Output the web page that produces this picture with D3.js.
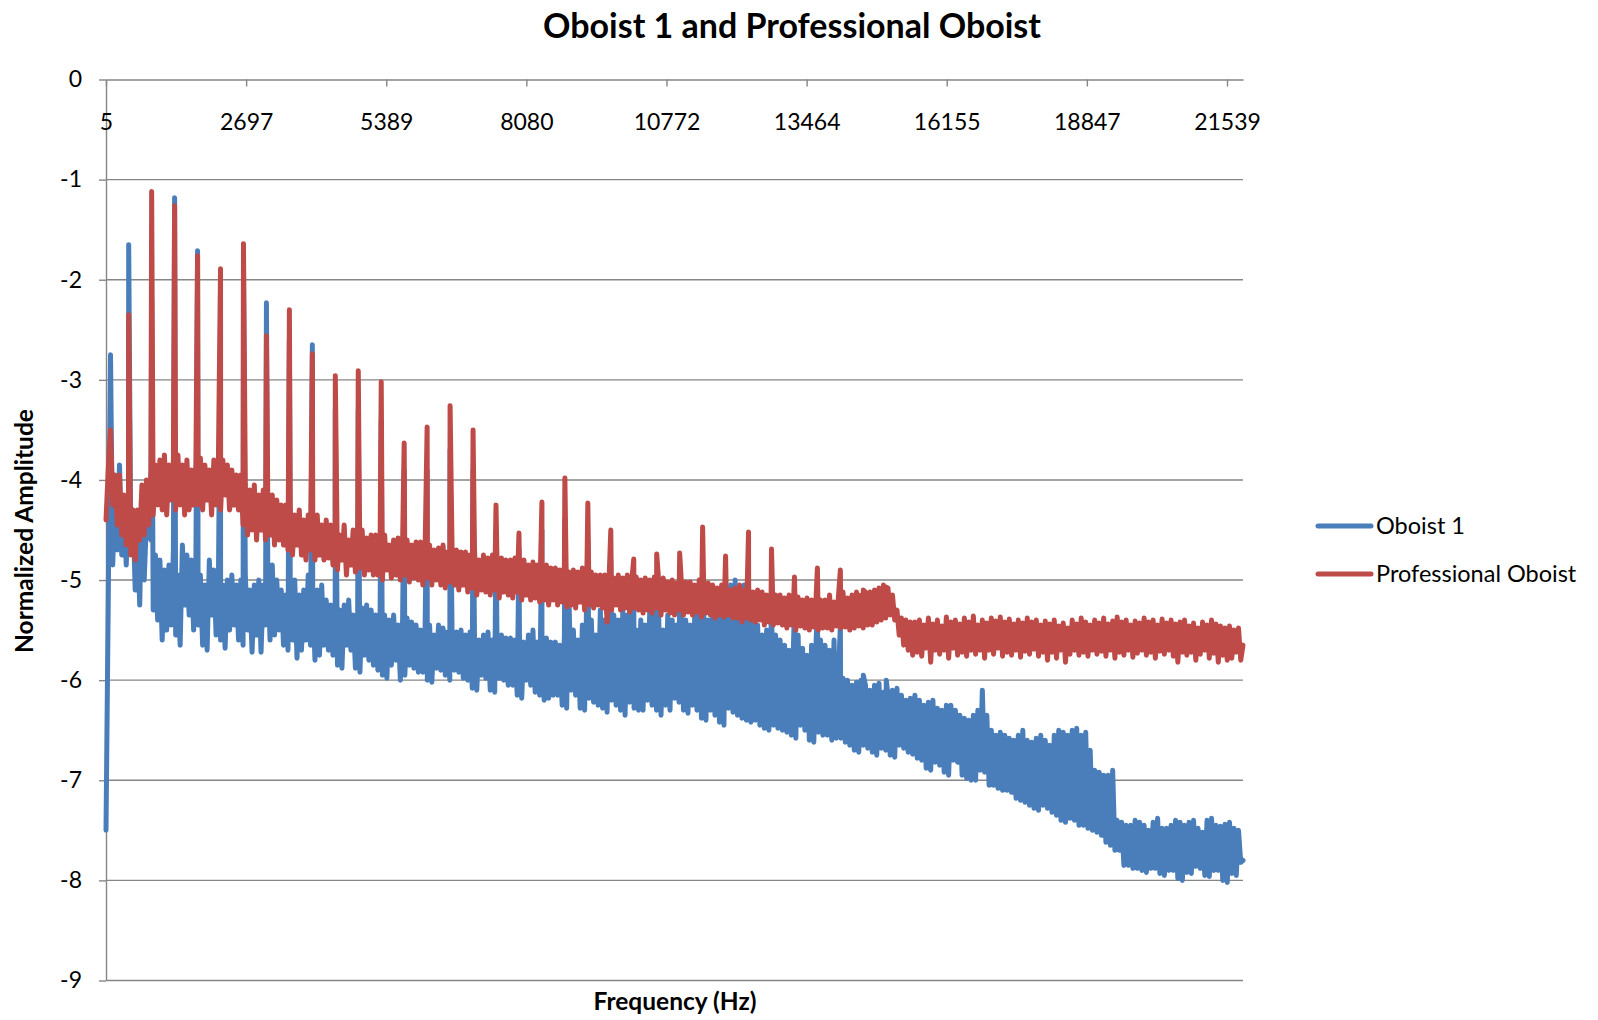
<!DOCTYPE html>
<html>
<head>
<meta charset="utf-8">
<script src="https://cdn.jsdelivr.net/npm/d3@7"></script>
<style>
  html, body { margin: 0; padding: 0; background: #ffffff; }
  svg { display: block; }
  text { font-family: Lato, "Open Sans", sans-serif; fill: #000; }
</style>
</head>
<body>
<svg id="chart" width="1598" height="1020"></svg>
<script>
// ---- Data -------------------------------------------------------------
// Category (frequency) labels shown along the top axis
const freqTickLabels = [5, 2697, 5389, 8080, 10772, 13464, 16155, 18847, 21539];
// Amplitude ticks (log10 of normalized amplitude)
const ampTicks = [0, -1, -2, -3, -4, -5, -6, -7, -8, -9];

// Spectrum sampled every 8 FFT bins, from 5 Hz up to the last bin
const firstHz = 5;
const binHz = 43.165;
const lastHz = 21846.5;

// Harmonic partials of the played note (Hz)
const harmonicHz = [441, 882, 1323, 1764, 2205, 2646, 3087, 3528, 3969, 4410,
  4851, 5292, 5733, 6174, 6615, 7056, 7497, 7938, 8379, 8820,
  9261, 9702, 10143, 10584, 11025, 11466, 11907, 12348, 12789, 13230,
  13671, 14112, 14553, 14994];

// Peak amplitude at each harmonic
const oboist1Harmonics = [-1.65, -2.20, -1.18, -1.71, -2.40, -2.00, -2.23, -2.60, -2.65, -3.30,
  -3.30, -3.40, -3.90, -3.90, -3.70, -3.90, -4.50, -4.70, -4.50, -4.40,
  -4.60, -4.80, -5.00, -5.00, -5.00, -4.90, -5.10, -5.00, -5.20, -5.30,
  -5.30, -5.45, -5.95, -6.00];
const proHarmonics = [-2.35, -1.12, -1.26, -1.76, -1.89, -1.64, -2.56, -2.30, -2.74, -2.96,
  -2.91, -3.02, -3.63, -3.47, -3.26, -3.50, -4.25, -4.53, -4.22, -3.98,
  -4.23, -4.50, -4.79, -4.74, -4.73, -4.47, -4.76, -4.52, -4.69, -4.97,
  -4.88, -4.90, -5.10, -5.07];

// Noise floor between the partials (one row = 20 samples, about 863 Hz)
const oboist1Floor = [
  -7.50, -5.20, -2.75, -4.85, -4.10, -4.70, -3.85, -4.75, -4.20, -4.85, -4.30, -4.60, -4.30, -5.10, -4.45, -5.25, -4.15, -5.00, -4.40, -4.55,
  -4.60, -5.30, -4.75, -5.40, -4.80, -5.60, -4.90, -5.50, -4.85, -5.45, -4.70, -5.55, -4.95, -5.65, -4.65, -5.25, -4.75, -5.35, -4.80, -5.50,
  -4.85, -5.45, -4.95, -5.65, -5.05, -5.70, -4.80, -5.35, -4.90, -5.55, -5.10, -5.60, -5.05, -5.68, -5.00, -5.50, -4.95, -5.45, -5.05, -5.60,
  -5.00, -5.65, -4.95, -5.50, -5.10, -5.72, -5.05, -5.55, -5.00, -5.72, -5.05, -5.45, -4.90, -5.60, -4.85, -5.55, -5.00, -5.50, -5.10, -5.65,
  -5.15, -5.70, -5.05, -5.60, -5.00, -5.78, -5.15, -5.70, -5.10, -5.60, -4.95, -5.65, -5.15, -5.80, -5.10, -5.75, -5.05, -5.65, -5.20, -5.70,
  -5.25, -5.75, -5.30, -5.85, -5.30, -5.88, -5.25, -5.65, -5.20, -5.70, -5.35, -5.88, -5.40, -5.92, -5.28, -5.75, -5.25, -5.80, -5.30, -5.85,
  -5.35, -5.90, -5.30, -5.95, -5.35, -5.98, -5.40, -5.85, -5.35, -5.80, -5.45, -6.00, -5.40, -5.95, -5.38, -5.85, -5.42, -5.88, -5.45, -5.92,
  -5.50, -5.92, -5.48, -6.00, -5.45, -6.02, -5.55, -5.88, -5.45, -5.90, -5.48, -5.95, -5.52, -6.00, -5.50, -5.90, -5.52, -5.92, -5.50, -5.98,
  -5.55, -6.00, -5.52, -6.08, -5.58, -6.10, -5.60, -5.95, -5.55, -5.98, -5.52, -6.10, -5.60, -6.12, -5.58, -5.98, -5.55, -6.00, -5.58, -6.05,
  -5.58, -6.05, -5.60, -6.15, -5.55, -6.18, -5.62, -6.00, -5.55, -6.05, -5.50, -6.12, -5.62, -6.15, -5.60, -6.20, -5.58, -6.18, -5.62, -6.15,
  -5.62, -6.15, -5.65, -6.25, -5.55, -6.28, -5.15, -6.10, -5.50, -6.15, -5.60, -6.28, -5.45, -6.30, -5.10, -6.18, -5.40, -6.22, -5.55, -6.25,
  -5.30, -6.28, -5.40, -6.32, -5.05, -6.20, -5.35, -6.25, -5.40, -6.30, -5.30, -6.35, -5.35, -6.22, -5.45, -6.28, -5.50, -6.30, -5.40, -6.30,
  -5.45, -6.20, -5.30, -6.25, -5.05, -6.30, -5.40, -6.35, -5.50, -6.25, -5.35, -6.30, -5.40, -6.18, -5.45, -6.22, -5.35, -6.30, -5.40, -6.33,
  -5.45, -6.25, -5.35, -6.30, -5.20, -6.38, -5.30, -6.40, -5.40, -6.30, -5.25, -6.35, -5.30, -6.42, -5.20, -6.45, -5.10, -6.28, -5.05, -6.32,
  -5.00, -6.35, -5.10, -6.38, -5.05, -6.40, -5.25, -6.42, -5.35, -6.40, -5.45, -6.45, -5.55, -6.48, -5.50, -6.50, -5.45, -6.45, -5.55, -6.48,
  -5.60, -6.50, -5.65, -6.52, -5.70, -6.55, -5.60, -6.58, -5.55, -6.45, -5.68, -6.50, -5.75, -6.60, -5.65, -6.62, -5.62, -6.52, -5.60, -6.55,
  -5.65, -6.55, -5.70, -6.60, -5.60, -6.58, -5.95, -6.58, -5.98, -6.62, -6.00, -6.65, -6.05, -6.70, -6.02, -6.72, -6.00, -6.65, -6.05, -6.68,
  -6.10, -6.72, -6.05, -6.75, -6.03, -6.68, -6.12, -6.70, -6.15, -6.75, -6.10, -6.77, -6.08, -6.65, -6.15, -6.68, -6.20, -6.72, -6.18, -6.74,
  -6.15, -6.78, -6.20, -6.80, -6.25, -6.88, -6.22, -6.90, -6.20, -6.82, -6.28, -6.85, -6.30, -6.92, -6.25, -6.95, -6.25, -6.80, -6.30, -6.82,
  -6.35, -6.95, -6.38, -6.98, -6.40, -7.00, -6.35, -7.00, -6.30, -6.90, -6.10, -6.92, -6.35, -7.05, -6.50, -7.05, -6.55, -7.08, -6.52, -7.10,
  -6.55, -7.10, -6.58, -7.12, -6.60, -7.18, -6.55, -7.20, -6.50, -7.22, -6.60, -7.25, -6.62, -7.28, -6.58, -7.30, -6.55, -7.25, -6.60, -7.28,
  -6.65, -7.32, -6.55, -7.35, -6.50, -7.40, -6.52, -7.42, -6.55, -7.38, -6.50, -7.40, -6.48, -7.45, -6.55, -7.45, -6.52, -7.48, -6.70, -7.50,
  -6.90, -7.52, -6.92, -7.55, -6.95, -7.62, -6.95, -7.65, -6.90, -7.70, -7.40, -7.70, -7.42, -7.85, -7.45, -7.85, -7.45, -7.88, -7.40, -7.88,
  -7.42, -7.90, -7.45, -7.92, -7.50, -7.88, -7.42, -7.88, -7.38, -7.93, -7.48, -7.95, -7.48, -7.90, -7.45, -7.90, -7.40, -7.98, -7.42, -8.00,
  -7.45, -7.92, -7.42, -7.93, -7.40, -7.86, -7.48, -7.88, -7.52, -7.95, -7.40, -7.96, -7.38, -7.90, -7.45, -7.90, -7.46, -8.00, -7.44, -8.02,
  -7.42, -7.93, -7.48, -7.95, -7.50, -7.82, -7.80
];
const proFloor = [
  -4.40, -3.90, -3.50, -4.25, -3.95, -4.45, -3.95, -4.55, -4.15, -4.65, -4.20, -4.75, -4.30, -4.80, -4.30, -4.60, -4.05, -4.55, -4.00, -4.45,
  -3.90, -4.35, -3.85, -4.25, -3.80, -4.30, -3.75, -4.35, -3.85, -4.20, -3.80, -4.30, -3.75, -4.25, -3.85, -4.35, -3.80, -4.30, -3.90, -4.25,
  -3.85, -4.25, -3.78, -4.30, -3.85, -4.20, -3.90, -4.35, -3.80, -4.25, -3.85, -4.30, -3.80, -4.15, -3.85, -4.30, -3.90, -4.25, -3.95, -4.30,
  -3.95, -4.45, -4.05, -4.55, -4.10, -4.50, -4.05, -4.60, -4.15, -4.50, -4.10, -4.60, -4.20, -4.55, -4.15, -4.65, -4.20, -4.60, -4.25, -4.65,
  -4.25, -4.70, -4.30, -4.75, -4.35, -4.65, -4.30, -4.75, -4.40, -4.80, -4.35, -4.70, -4.40, -4.80, -4.35, -4.75, -4.45, -4.80, -4.40, -4.78,
  -4.45, -4.85, -4.50, -4.90, -4.55, -4.80, -4.45, -4.95, -4.60, -4.85, -4.50, -4.92, -4.55, -4.88, -4.50, -4.95, -4.58, -4.90, -4.55, -4.95,
  -4.55, -4.95, -4.60, -5.00, -4.55, -4.90, -4.65, -4.98, -4.60, -4.95, -4.58, -5.00, -4.62, -4.95, -4.60, -5.02, -4.65, -4.98, -4.62, -5.00,
  -4.62, -5.05, -4.70, -4.98, -4.65, -5.05, -4.70, -5.00, -4.68, -5.05, -4.65, -5.08, -4.72, -5.02, -4.68, -5.05, -4.70, -5.10, -4.72, -5.05,
  -4.72, -5.12, -4.75, -5.08, -4.70, -5.15, -4.80, -5.10, -4.75, -5.12, -4.78, -5.15, -4.75, -5.10, -4.80, -5.18, -4.78, -5.12, -4.80, -5.15,
  -4.80, -5.18, -4.78, -5.12, -4.85, -5.20, -4.80, -5.15, -4.85, -5.20, -4.82, -5.18, -4.85, -5.22, -4.88, -5.20, -4.85, -5.25, -4.88, -5.20,
  -4.88, -5.25, -4.90, -5.22, -4.85, -5.27, -4.92, -5.25, -4.90, -5.28, -4.92, -5.22, -4.88, -5.30, -4.95, -5.25, -4.92, -5.28, -4.95, -5.25,
  -4.95, -5.28, -4.95, -5.42, -4.92, -5.30, -4.98, -5.25, -4.95, -5.30, -4.98, -5.28, -4.95, -5.32, -5.00, -5.28, -4.97, -5.30, -5.00, -5.33,
  -4.98, -5.30, -5.00, -5.33, -4.97, -5.28, -5.02, -5.35, -4.98, -5.30, -5.02, -5.33, -5.00, -5.35, -5.03, -5.30, -5.00, -5.35, -5.02, -5.32,
  -5.02, -5.35, -5.05, -5.32, -5.00, -5.37, -5.08, -5.33, -5.03, -5.35, -5.05, -5.38, -5.08, -5.35, -5.05, -5.37, -5.08, -5.35, -5.10, -5.38,
  -5.08, -5.38, -5.05, -5.42, -5.10, -5.38, -5.07, -5.40, -5.12, -5.42, -5.10, -5.40, -5.12, -5.45, -5.15, -5.42, -5.12, -5.45, -5.15, -5.43,
  -5.15, -5.45, -5.18, -5.48, -5.15, -5.45, -5.20, -5.50, -5.17, -5.46, -5.20, -5.48, -5.18, -5.50, -5.20, -5.47, -5.18, -5.50, -5.20, -5.48,
  -5.20, -5.48, -5.15, -5.50, -5.22, -5.46, -5.15, -5.48, -5.12, -5.47, -5.18, -5.50, -5.15, -5.48, -5.12, -5.46, -5.15, -5.48, -5.12, -5.45,
  -5.12, -5.45, -5.10, -5.42, -5.08, -5.40, -5.05, -5.38, -5.08, -5.35, -5.15, -5.40, -5.30, -5.55, -5.38, -5.65, -5.40, -5.70, -5.42, -5.75,
  -5.42, -5.72, -5.40, -5.76, -5.45, -5.68, -5.38, -5.82, -5.44, -5.70, -5.40, -5.74, -5.46, -5.70, -5.37, -5.78, -5.42, -5.68, -5.40, -5.75,
  -5.44, -5.72, -5.38, -5.76, -5.42, -5.70, -5.36, -5.74, -5.45, -5.70, -5.40, -5.78, -5.43, -5.70, -5.38, -5.74, -5.41, -5.68, -5.37, -5.76,
  -5.42, -5.72, -5.39, -5.75, -5.44, -5.70, -5.40, -5.77, -5.43, -5.71, -5.38, -5.74, -5.42, -5.69, -5.40, -5.76, -5.45, -5.72, -5.41, -5.80,
  -5.44, -5.72, -5.40, -5.78, -5.46, -5.70, -5.43, -5.82, -5.48, -5.74, -5.40, -5.70, -5.44, -5.75, -5.38, -5.72, -5.42, -5.76, -5.45, -5.70,
  -5.40, -5.74, -5.43, -5.71, -5.38, -5.76, -5.44, -5.70, -5.41, -5.78, -5.37, -5.72, -5.42, -5.75, -5.40, -5.70, -5.45, -5.77, -5.41, -5.73,
  -5.43, -5.70, -5.38, -5.75, -5.42, -5.72, -5.40, -5.78, -5.45, -5.71, -5.39, -5.74, -5.43, -5.70, -5.40, -5.76, -5.44, -5.82, -5.42, -5.72,
  -5.40, -5.75, -5.46, -5.72, -5.43, -5.80, -5.48, -5.74, -5.42, -5.70, -5.45, -5.78, -5.40, -5.73, -5.44, -5.82, -5.46, -5.75, -5.48, -5.80,
  -5.46, -5.78, -5.50, -5.72, -5.48, -5.80, -5.65
];

const seriesNames = ["Oboist 1", "Professional Oboist"];
const seriesColors = ["#4A7EBB", "#BE4B48"];

// ---- Build point lists: floor samples merged with harmonic peaks --------
function buildSpectrum(floor, peaks) {
  const pts = floor.map((v, i) => ({ f: Math.min(firstHz + i * binHz, lastHz), v }));
  harmonicHz.forEach((h, k) => pts.push({ f: h, v: peaks[k] }));
  return pts.sort((a, b) => a.f - b.f);
}
const spectra = [
  buildSpectrum(oboist1Floor, oboist1Harmonics),
  buildSpectrum(proFloor, proHarmonics)
];

// ---- Layout -------------------------------------------------------------
const plot = { left: 106, right: 1243, top: 79.5, bottom: 980.5 };
const gridColor = "#868686";

const svg = d3.select("#chart");

const x = d3.scaleLinear()
  .domain([firstHz, lastHz])
  .range([plot.left, plot.right]);
const y = d3.scaleLinear()
  .domain([d3.min(ampTicks), d3.max(ampTicks)])
  .range([plot.bottom, plot.top]);

// Horizontal gridlines
svg.append("g")
  .selectAll("line")
  .data(ampTicks.filter(d => d !== 0))
  .join("line")
  .attr("x1", plot.left).attr("x2", plot.right)
  .attr("y1", d => y(d)).attr("y2", d => y(d))
  .attr("stroke", gridColor).attr("stroke-width", 1.4);

// Value axis (left)
const yAxis = svg.append("g")
  .attr("transform", `translate(${plot.left},0)`)
  .call(d3.axisLeft(y).tickValues(ampTicks).tickSize(7).tickSizeOuter(0)
    .tickPadding(17).tickFormat(d => String(d)));
yAxis.selectAll("path.domain").attr("stroke", gridColor).attr("stroke-width", 1.4);
yAxis.selectAll(".tick line").attr("stroke", gridColor).attr("stroke-width", 1.4);
yAxis.selectAll(".tick text")
  .style("font-family", "Lato, 'Open Sans', sans-serif")
  .style("font-size", "23px").attr("fill", "#000");

// Category axis (crosses at 0, along the top)
const xAxis = svg.append("g")
  .attr("transform", `translate(0,${plot.top})`)
  .call(d3.axisBottom(x).tickValues(freqTickLabels).tickSize(7).tickSizeOuter(0)
    .tickPadding(27).tickFormat(d => String(d)));
xAxis.selectAll("path.domain").attr("stroke", gridColor).attr("stroke-width", 1.4);
xAxis.selectAll(".tick line").attr("stroke", gridColor).attr("stroke-width", 1.4);
xAxis.selectAll(".tick text")
  .style("font-family", "Lato, 'Open Sans', sans-serif")
  .style("font-size", "23px").attr("fill", "#000");

// Spectrum lines
const line = d3.line().x(d => x(d.f)).y(d => y(d.v));
svg.append("g")
  .selectAll("path")
  .data(spectra)
  .join("path")
  .attr("d", line)
  .attr("fill", "none")
  .attr("stroke", (d, i) => seriesColors[i])
  .attr("stroke-width", 5)
  .attr("stroke-linejoin", "round")
  .attr("stroke-linecap", "round");

// Titles
svg.append("text")
  .attr("x", 792).attr("y", 38)
  .attr("text-anchor", "middle")
  .style("font-size", "34px").style("font-weight", "bold")
  .text("Oboist 1 and Professional Oboist");

svg.append("text")
  .attr("transform", "translate(33,531) rotate(-90)")
  .attr("text-anchor", "middle")
  .style("font-size", "24.5px").style("font-weight", "bold")
  .text("Normalized Amplitude");

svg.append("text")
  .attr("x", 675).attr("y", 1010)
  .attr("text-anchor", "middle")
  .style("font-size", "24.5px").style("font-weight", "bold")
  .text("Frequency (Hz)");

// Legend
const legend = svg.append("g").attr("transform", "translate(1318,526)");
const items = legend.selectAll("g")
  .data(seriesNames)
  .join("g")
  .attr("transform", (d, i) => `translate(0,${i * 48})`);
items.append("line")
  .attr("x1", 0).attr("x2", 53).attr("y1", 0).attr("y2", 0)
  .attr("stroke", (d, i) => seriesColors[i])
  .attr("stroke-width", 5).attr("stroke-linecap", "round");
items.append("text")
  .attr("x", 58).attr("dy", "0.35em")
  .style("font-size", "23.5px")
  .text(d => d);
</script>
</body>
</html>
